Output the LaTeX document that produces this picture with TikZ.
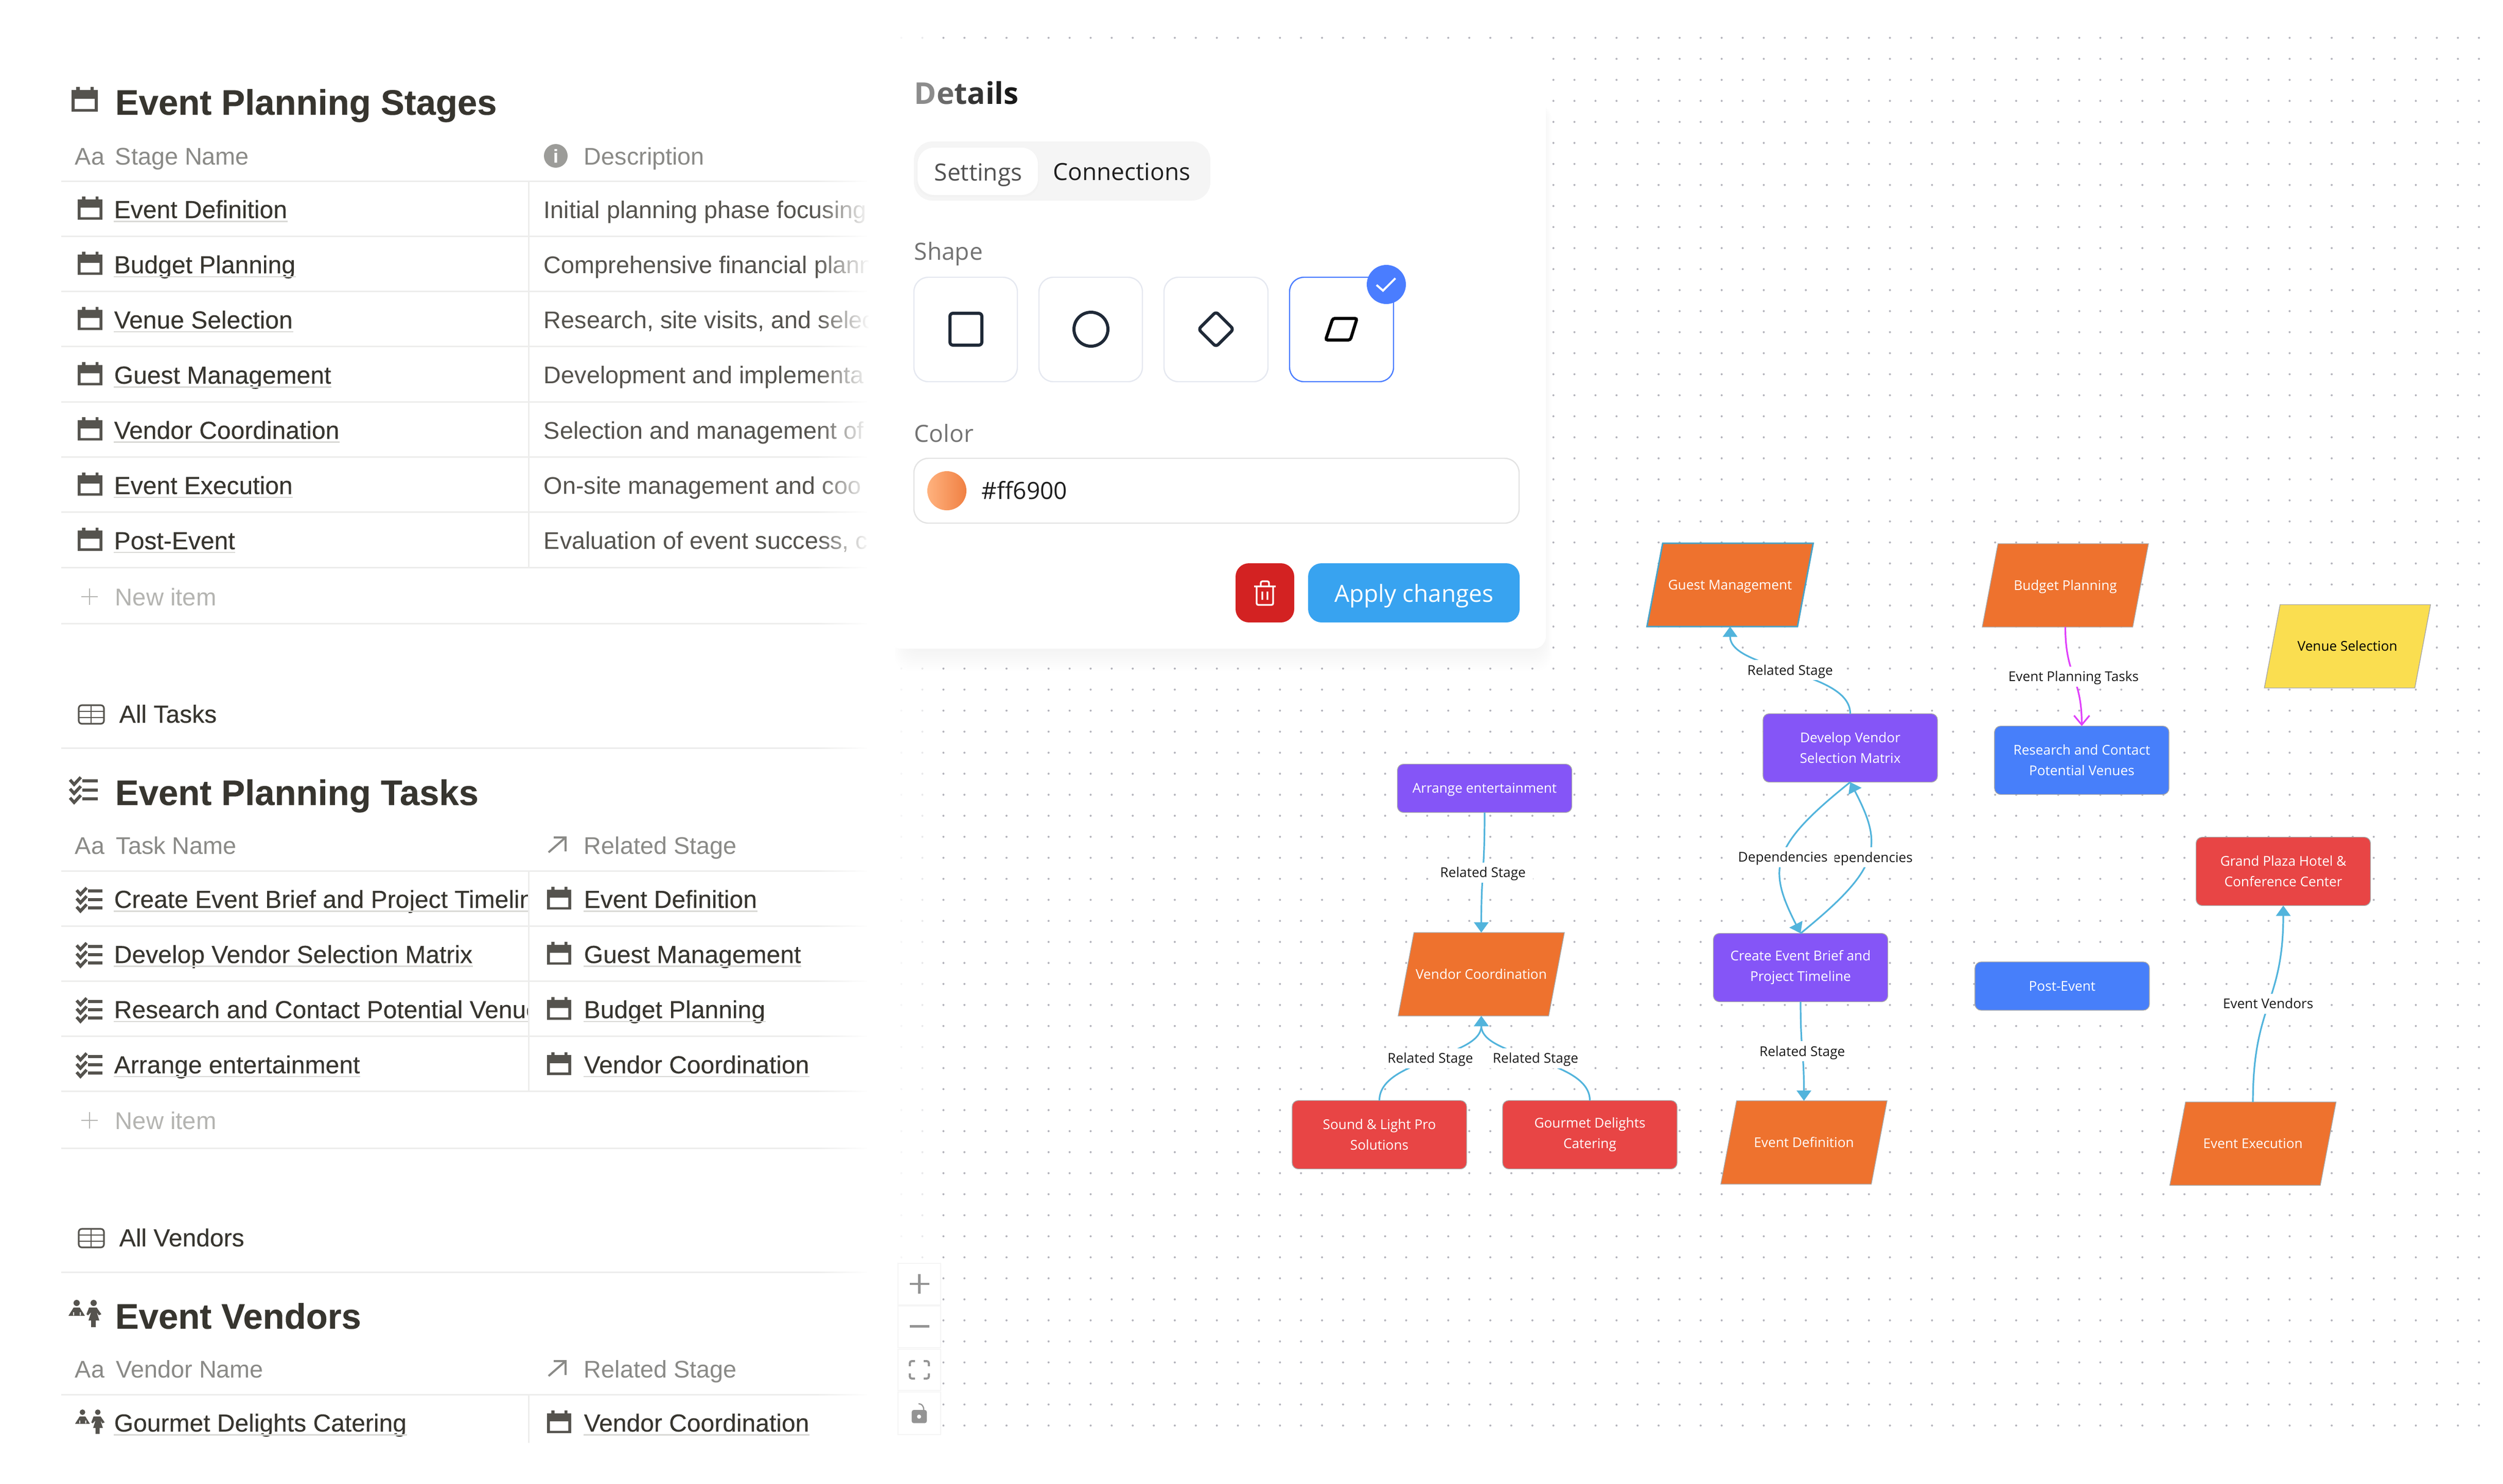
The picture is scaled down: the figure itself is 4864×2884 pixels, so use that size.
\documentclass[tikz,border=0pt]{standalone}
\usepackage{fontspec}
\setmainfont{Liberation Sans}
\newfontfamily\notionmed[FakeBold=0.2]{Liberation Sans}
\newfontfamily\notionbold[FakeBold=0.25]{Liberation Sans Bold}
\newfontfamily\flowfont{Open Sans}
\usetikzlibrary{shapes.geometric,arrows.meta,fadings}

\definecolor{inkdark}{HTML}{37352F}
\definecolor{inkicon}{HTML}{55534E}
\definecolor{inkhead}{HTML}{8A8A87}
\definecolor{inknew}{HTML}{B4B4B1}
\definecolor{rulegray}{HTML}{EDEDEC}
\definecolor{linkgray}{HTML}{D9D9D6}
\definecolor{dotgray}{HTML}{B4B4BC}
\definecolor{cardgray}{HTML}{E5E8F0}
\definecolor{selectblue}{HTML}{4A7DFF}
\definecolor{navy}{HTML}{1F2937}
\definecolor{stageorange}{HTML}{EE722E}
\definecolor{taskpurple}{HTML}{8555F7}
\definecolor{vendorred}{HTML}{E84545}
\definecolor{postblue}{HTML}{477FFA}
\definecolor{venueyellow}{HTML}{FADE50}
\definecolor{edgeblue}{HTML}{52B4DC}
\definecolor{edgepink}{HTML}{E040FB}
\definecolor{trashred}{HTML}{D32222}
\definecolor{applyblue}{HTML}{38A3F0}

\tikzfading[name=fadeout, left color=transparent!100, right color=transparent!0]

\tikzset{
  titletext/.style={anchor=base west, inner sep=0pt, text=inkdark, font=\notionbold\fontsize{17.2}{20}\selectfont},
  viewtext/.style={anchor=base west, inner sep=0pt, text=inkdark, font=\notionmed\fontsize{12}{14}\selectfont},
  rowname/.style={anchor=base west, inner sep=0pt, text=inkdark, font=\notionmed\fontsize{12}{14}\selectfont},
  rowdesc/.style={anchor=base west, inner sep=0pt, text=inkicon, font=\fontsize{11.7}{14}\selectfont},
  headtext/.style={anchor=base west, inner sep=0pt, text=inkhead, font=\fontsize{11.7}{14}\selectfont},
  newtext/.style={anchor=base west, inner sep=0pt, text=inknew, font=\fontsize{11.8}{14}\selectfont},
  tableline/.style={draw=rulegray, line width=.75pt},
  linkline/.style={draw=linkgray, line width=.6pt},
  uitext/.style={inner sep=0pt, anchor=base, font=\flowfont\fontsize{11.5}{14}\selectfont},
  choicecard/.style={draw=cardgray, line width=.6pt, fill=white, rounded corners=7pt},
  flowbox/.style={draw=black!35, line width=.35pt, rounded corners=3pt, outer sep=0pt, inner sep=0pt,
    minimum width=84.75pt, minimum height=33.25pt, align=center, text=white, font=\flowfont\fontsize{6.55}{10}\selectfont},
  flowshort/.style={flowbox, minimum height=23.5pt, text height=5.5pt, text depth=.8pt},
  flowslant/.style={trapezium, trapezium left angle=79.3, trapezium right angle=100.7, trapezium stretches body=true,
    draw=black!35, line width=.35pt, outer sep=0pt, inner sep=0pt, fill=stageorange,
    text height=22.55pt, text depth=17.95pt,
    minimum width=80.75pt, minimum height=40.5pt, text=white, font=\flowfont\fontsize{6.55}{10}\selectfont},
  edgelabel/.style={fill=white, text=black!90, inner xsep=3.5pt, inner ysep=0pt, minimum height=9.75pt,
    text height=5.5pt, text depth=.8pt, font=\flowfont\fontsize{6.55}{10}\selectfont},
  stageedge/.style={draw=edgeblue, line width=.8pt, -{Triangle[width=7pt,length=5pt]}},
  taskedge/.style={draw=edgepink, line width=.8pt, -{Straight Barb[width=7.5pt,length=4.5pt]}},
  zoombtn/.style={draw=black!4, line width=.3pt, fill=white},
  zoomglyph/.style={draw=black!42, line width=1.2pt},
  pics/calendar/.style={code={
    \fill[inkicon, even odd rule] (0,6) rectangle (51,48) (6,23) rectangle (45,43);
    \fill[inkicon] (9,0) rectangle (16,7) (37,0) rectangle (43,7);
  }},
  pics/checklist/.style={code={
    \foreach \rowy in {0,17.5,35} {
      \draw[inkicon, line width=1.5pt] (24,\rowy+7) -- (54,\rowy+7);
      \draw[inkicon, line width=1.5pt] (0,\rowy+5) -- (8,\rowy+14) -- (21,\rowy);
    }
  }},
  pics/gridtable/.style={code={
    \draw[inkicon, line width=.8pt, rounded corners=1.5pt] (0,0) rectangle (49,36);
    \draw[inkicon, line width=.7pt] (0,12) -- (49,12) (0,24) -- (49,24) (24,0) -- (24,36);
  }},
  pics/people/.style={code={
    \fill[inkicon] (17,6) circle (6) (50,6) circle (6);
    \fill[inkicon] (1,31) -- (11,15) -- (23,15) -- (33,31) -- cycle;
    \fill[inkicon] (41,15) -- (56,15) -- (65,28) -- (60,30) -- (56,24) -- (61,40) -- (54,40) -- (54,53)
      -- (45,53) -- (45,40) -- (40,40) -- (45,24) -- (39,30) -- (36,28) -- cycle;
    \fill[white] (10,24) rectangle (12,30) (23,24) rectangle (25,30);
  }},
  pics/aarrow/.style={code={
    \draw[inkhead, line width=1pt] (0,29) -- (33,0) (10,0) -- (33,0) -- (33,27);
  }}
}

\begin{document}
\begin{tikzpicture}[x=.25pt,y=-.25pt]
\useasboundingbox (0,0) rectangle (4864,2884);
\fill[white] (0,0) rectangle (4864,2884);

% canvas dots
\foreach \j in {0,...,73}
  \foreach \k in {0,...,66}
    \fill[dotgray] ({1833.3+40.875*\j},{73.5+40.875*\k}) circle (2);
\foreach \j/\o in {-2/.12,-1/.3}
  \foreach \k in {0,...,66}
    \fill[dotgray, opacity=\o] ({1833.3+40.875*\j},{73.5+40.875*\k}) circle (2);

% stages table
\pic at (139,169) {calendar};
\node[titletext] (stagesTitle) at (223,223) {Event Planning Stages};
\node[headtext] (stagesAa) at (145,320) {Aa};
\node[headtext] (stagesHead) at (223,320) {Stage Name};
\fill[inkhead!85] (1080,303) circle (23);
\node[inner sep=0pt, text=white, font=\notionbold\fontsize{9}{9}\selectfont] (stagesInfo) at (1080,303) {i};
\node[headtext] (stagesDesc) at (1134,320) {Description};
\draw[tableline] (119,352) -- (1685,352);
\foreach \stage/\desc [count=\i from 0] in {Event Definition/Initial planning phase focusing,
    Budget Planning/Comprehensive financial plann,
    Venue Selection/{Research, site visits, and selec},
    Guest Management/Development and implementa,
    Vendor Coordination/Selection and management of,
    Event Execution/On-site management and coo,
    Post-Event/{Evaluation of event success, c}} {
  \pgfmathsetmacro\basey{424+107.3*\i}
  \pic[scale=.94] at (151,\basey-42) {calendar};
  \node[rowname] (stage\i) at (221,\basey) {\stage};
  \draw[linkline] ([yshift=-1.6pt]stage\i.base west) -- ([yshift=-1.6pt]stage\i.base east);
  \node[rowdesc] (desc\i) at (1056,\basey) {\desc};
  \draw[tableline] (119,{352+107.3*(\i+1)}) -- (1685,{352+107.3*(\i+1)});
}
\draw[tableline] (1027,352) -- (1027,1103);
\draw[inknew, line width=.6pt] (158,1160) -- (190,1160) (174,1144) -- (174,1176);
\node[newtext] (stagesNew) at (223,1177) {New item};
\draw[tableline] (119,1212) -- (1685,1212);

% tasks table
\pic at (153,1371) {gridtable};
\node[viewtext] (tasksView) at (231,1405) {All Tasks};
\draw[tableline] (119,1454) -- (1685,1454);
\pic at (136,1511) {checklist};
\node[titletext] (tasksTitle) at (223,1565) {Event Planning Tasks};
\node[headtext] (tasksAa) at (145,1660) {Aa};
\node[headtext] (tasksHead) at (225,1660) {Task Name};
\pic at (1066,1628) {aarrow};
\node[headtext] (tasksRel) at (1134,1660) {Related Stage};
\draw[tableline] (119,1693) -- (1685,1693);
\begin{scope}
\clip (119,1693) rectangle (1027,2122);
\foreach \task [count=\i from 0] in {Create Event Brief and Project Timeline,
    Develop Vendor Selection Matrix,
    Research and Contact Potential Venues,
    Arrange entertainment} {
  \pgfmathsetmacro\basey{1765+107.2*\i}
  \node[rowname] (task\i) at (221,\basey) {\task};
  \draw[linkline] ([yshift=-1.6pt]task\i.base west) -- ([yshift=-1.6pt]task\i.base east);
}
\end{scope}
\foreach \rel [count=\i from 0] in {Event Definition,Guest Management,Budget Planning,Vendor Coordination} {
  \pgfmathsetmacro\basey{1765+107.2*\i}
  \pic[scale=.92] at (149,\basey-39) {checklist};
  \pic[scale=.92] at (1063,\basey-41) {calendar};
  \node[rowname] (taskRel\i) at (1134,\basey) {\rel};
  \draw[linkline] ([yshift=-1.6pt]taskRel\i.base west) -- ([yshift=-1.6pt]taskRel\i.base east);
  \draw[tableline] (119,{1693+107.2*(\i+1)}) -- (1685,{1693+107.2*(\i+1)});
}
\draw[tableline] (1027,1693) -- (1027,2122);
\draw[inknew, line width=.6pt] (158,2178) -- (190,2178) (174,2162) -- (174,2194);
\node[newtext] (tasksNew) at (223,2195) {New item};
\draw[tableline] (119,2232) -- (1685,2232);

% vendors table
\pic at (153,2389) {gridtable};
\node[viewtext] (vendorsView) at (231,2423) {All Vendors};
\draw[tableline] (119,2473) -- (1685,2473);
\pic at (132,2527) {people};
\node[titletext] (vendorsTitle) at (223,2583) {Event Vendors};
\node[headtext] (vendorsAa) at (145,2678) {Aa};
\node[headtext] (vendorsHead) at (225,2678) {Vendor Name};
\pic at (1066,2646) {aarrow};
\node[headtext] (vendorsRel) at (1134,2678) {Related Stage};
\draw[tableline] (119,2711) -- (1685,2711);
\pic[scale=.9] at (145,2740) {people};
\node[rowname] (vendor0) at (221,2783) {Gourmet Delights Catering};
\draw[linkline] ([yshift=-1.6pt]vendor0.base west) -- ([yshift=-1.6pt]vendor0.base east);
\pic[scale=.92] at (1063,2742) {calendar};
\node[rowname] (vendorRel0) at (1134,2783) {Vendor Coordination};
\draw[linkline] ([yshift=-1.6pt]vendorRel0.base west) -- ([yshift=-1.6pt]vendorRel0.base east);
\draw[tableline] (1027,2711) -- (1027,2805);

% right side of the tables fades out
\fill[white, path fading=fadeout] (1585,340) rectangle (1690,2815);
\fill[white] (1688,340) rectangle (1745,2815);

% zoom buttons
\draw[zoombtn] (1745,2456) rectangle (1828,2537);
\draw[zoombtn] (1745,2539) rectangle (1828,2620);
\draw[zoombtn] (1745,2623) rectangle (1828,2703);
\draw[zoombtn] (1745,2706) rectangle (1828,2789);
\draw[zoomglyph] (1767.7,2496) -- (1806,2496) (1786.7,2477) -- (1786.7,2515);
\draw[zoomglyph] (1767.7,2578.7) -- (1806,2578.7);
\draw[zoomglyph, line width=1pt, rounded corners=1pt] (1768,2656) -- (1768,2646) -- (1778,2646)
  (1795,2646) -- (1805,2646) -- (1805,2656) (1805,2670) -- (1805,2680) -- (1795,2680)
  (1778,2680) -- (1768,2680) -- (1768,2670);
\fill[black!42, rounded corners=1pt] (1771.7,2741) rectangle (1801,2766.7);
\fill[white] (1786,2754) circle (4);
\draw[black!42, line width=.6pt] (1795,2741) .. controls (1795,2733) and (1791,2729) .. (1785,2729);

% details panel with soft shadow
\foreach \s in {4,8,...,44}
  \fill[black, opacity=.005, rounded corners=8pt] ({1760-.5*\s},{200}) rectangle ({2998+.4*\s},{1261+\s});
\fill[white, rounded corners=6pt] (1727,88) rectangle (3004,1261);
\node[anchor=base west, inner sep=0pt, font=\flowfont\bfseries\fontsize{14.6}{18}\selectfont] (detailsTitle) at (1776,202)
  {\textcolor{black!45}{D}\textcolor{black!58}{e}\textcolor{black!72}{t}\textcolor{black!80}{a}\textcolor{black!85}{i}\textcolor{black!88}{l}\textcolor{black!90}{s}};
\fill[black!4, rounded corners=9pt] (1776,275) rectangle (2352,390);
\fill[black!5, rounded corners=8pt] (1781,290) rectangle (2019,383);
\fill[white, rounded corners=8pt] (1783,287) rectangle (2017,379);
\node[uitext, text=black!68] (tabSettings) at (1901,351) {Settings};
\node[uitext, text=black!88] (tabConnections) at (2180,350) {Connections};

\node[uitext, anchor=base west, text=black!55] (shapeLabel) at (1776,505) {Shape};
\draw[choicecard] (1776,539) rectangle (1977,742);
\draw[choicecard] (2019,539) rectangle (2220,742);
\draw[choicecard] (2262,539) rectangle (2464,742);
\draw[choicecard, draw=selectblue] (2506,539) rectangle (2708,742);
\draw[navy, line width=1.5pt, rounded corners=1.5pt] (1846,609) rectangle (1908,671);
\draw[navy, line width=1.5pt] (2120,640) circle (33);
\draw[navy, line width=1.5pt, rounded corners=1.5pt] (2363,606) -- (2397,640) -- (2363,674) -- (2329,640) -- cycle;
\draw[black, line width=1.5pt, rounded corners=1pt] (2590,619) -- (2637,619) -- (2624,661) -- (2576,661) -- cycle;
\fill[selectblue] (2694,553) circle (38);
\draw[white, line width=1pt] (2675,554) -- (2687.5,565) -- (2711.6,541);

\node[uitext, anchor=base west, text=black!55] (colorLabel) at (1776,859) {Color};
\draw[draw=black!11, line width=.6pt, fill=white, rounded corners=7pt] (1776,891) rectangle (2952,1017);
\shade[left color=orange!45!white!90!red, right color=stageorange!90] (1840,954) circle (38);
\node[uitext, anchor=base west, text=black!88] (colorValue) at (1907,970) {\#ff6900};

\fill[trashred, rounded corners=6.5pt] (2401,1095) rectangle (2515,1210);
\draw[white, line width=.85pt, rounded corners=.8pt] (2437,1140) -- (2479,1140)
  (2450,1140) -- (2450,1130) -- (2466,1130) -- (2466,1140)
  (2442,1140) -- (2442,1176) -- (2474,1176) -- (2474,1140)
  (2453,1150) -- (2453,1166) (2463,1150) -- (2463,1166);
\fill[applyblue, rounded corners=6.5pt] (2542,1095) rectangle (2953,1210);
\node[uitext, text=white] (applyText) at (2748,1170) {Apply changes};

% flow nodes
\node[flowslant, draw=edgeblue!90!black, line width=.75pt] (guest) at (3362,1137) {Guest Management};
\node[flowslant] (budget) at (4013.5,1138) {Budget Planning};
\node[flowslant, fill=venueyellow, text=black] (venue) at (4561.7,1256.5) {Venue Selection};
\node[flowslant] (vendorco) at (2878.5,1894) {Vendor Coordination};
\node[flowslant] (eventdef) at (3505.5,2221) {Event Definition};
\node[flowslant] (execution) at (4378,2223.4) {Event Execution};
\node[flowbox, fill=taskpurple] (develop) at (3595.5,1454) {Develop Vendor\\Selection Matrix};
\node[flowbox, fill=taskpurple] (create) at (3499,1881) {Create Event Brief and\\Project Timeline};
\node[flowshort, fill=taskpurple] (arrange) at (2885,1532.5) {Arrange entertainment};
\node[flowbox, fill=postblue] (research) at (4045.4,1478) {Research and Contact\\Potential Venues};
\node[flowshort, fill=postblue] (post) at (4007.4,1917) {Post-Event};
\node[flowbox, fill=vendorred] (sound) at (2680.5,2206) {Sound \& Light Pro\\Solutions};
\node[flowbox, fill=vendorred] (gourmet) at (3089.5,2206) {Gourmet Delights\\Catering};
\node[flowbox, fill=vendorred] (grand) at (4437,1694) {Grand Plaza Hotel \&\\Conference Center};

% flow edges
\draw[stageedge] (develop.north) .. controls +(0,-85) and +(0,85) .. (guest.south)
  node[edgelabel, pos=.5] (lblGuest) {Related Stage};
\draw[stageedge] (arrange.south) .. controls +(0,117) and +(0,-117) .. (vendorco.north)
  node[edgelabel, pos=.5] (lblArrange) {Related Stage};
\draw[stageedge] (sound.north) .. controls +(0,-82) and +(0,82) .. (vendorco.south)
  node[edgelabel, pos=.5] (lblSound) {Related Stage};
\draw[stageedge] (gourmet.north) .. controls +(0,-82) and +(0,82) .. (vendorco.south)
  node[edgelabel, pos=.5] (lblGourmet) {Related Stage};
\draw[stageedge] (create.south) .. controls +(0,97) and +(0,-97) .. (eventdef.north)
  node[edgelabel, pos=.5] (lblCreate) {Related Stage};
\draw[stageedge] (create.north) .. controls (3654.5,1688) and (3660.5,1645.5) .. (develop.south)
  node[edgelabel, pos=.5] (lblDepRight) {Dependencies};
\draw[stageedge] (develop.south) .. controls (3440,1645) and (3434,1687.5) .. (create.north)
  node[edgelabel, pos=.5] (lblDepLeft) {Dependencies};
\draw[taskedge] (budget.south) .. controls +(0,96) and +(0,-96) .. (research.north)
  node[edgelabel, pos=.5] (lblBudget) {Event Planning Tasks};
\draw[stageedge] (execution.north) .. controls +(0,-191) and +(0,191) .. (grand.south)
  node[edgelabel, pos=.5] (lblExecution) {Event Vendors};
\end{tikzpicture}
\end{document}
